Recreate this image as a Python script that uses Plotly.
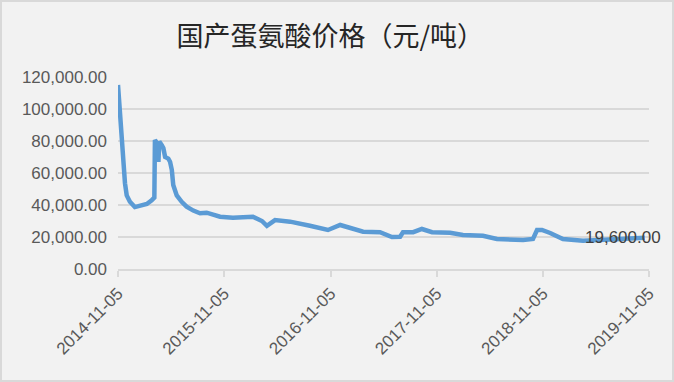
import plotly.graph_objects as go

dates = ["2014-11-05","2014-11-07","2014-11-12","2014-11-18","2014-11-23","2014-11-29","2014-12-05",
         "2014-12-16","2015-01-02","2015-01-20","2015-02-12","2015-03-01","2015-03-10","2015-03-12",
         "2015-03-18","2015-03-24","2015-03-27","2015-04-04","2015-04-10","2015-04-16","2015-04-27",
         "2015-05-03","2015-05-09","2015-05-14","2015-05-26","2015-06-12","2015-06-29","2015-07-22",
         "2015-08-14","2015-09-06","2015-10-22","2015-12-05","2016-02-12","2016-03-14","2016-03-31",
         "2016-04-28","2016-06-19","2016-08-26","2016-10-27","2016-12-08","2017-01-11","2017-02-07",
         "2017-02-25","2017-04-24","2017-06-04","2017-07-02","2017-07-12","2017-08-16","2017-09-15",
         "2017-10-20","2017-12-21","2018-02-03","2018-04-13","2018-05-31","2018-08-29","2018-10-02",
         "2018-10-16","2018-11-02","2018-11-30","2019-01-13","2019-03-23","2019-06-24","2019-10-22"]
prices = [115000,110000,93000,85000,70000,53600,46000,
          42000,38700,39400,40600,43000,44600,80600,
          79000,67000,79600,77500,75600,70000,69000,
          67000,62000,52500,46000,42000,39000,36500,
          34800,35200,32700,32000,32700,30000,27000,
          30600,29600,27000,24400,27500,25600,24400,
          23300,23000,20000,20200,23000,23000,25000,
          23000,22700,21250,20800,18750,18100,18750,
          24400,24400,22500,18750,17700,18500,19600]

tick_dates = ["2014-11-05","2015-11-05","2016-11-05","2017-11-05","2018-11-05","2019-11-05"]
title_text = "国产蛋氨酸价格（元/吨）"
last_label = "19,600.00"

L, R, T, B = 118, 25, 77, 113
W, H = 674, 382
pw, ph = W - L - R, H - T - B

fig = go.Figure()
fig.add_trace(go.Scatter(x=dates, y=prices, mode="lines",
                         line=dict(color="#5b9bd5", width=4.5), hoverinfo="skip"))

fig.add_annotation(x=dates[-1], y=prices[-1], text=last_label, showarrow=False,
                   xanchor="right", yanchor="middle", xshift=18,
                   font=dict(family="Liberation Sans, Arial", size=17, color="#404040"))

fig.update_layout(
    width=W, height=H,
    margin=dict(l=L, r=R, t=T, b=B),
    paper_bgcolor="#f2f2f2", plot_bgcolor="#f2f2f2",
    showlegend=False,
    title=dict(text=title_text, x=0.49, xanchor="center", y=0.905, yanchor="middle",
               font=dict(family="Noto Sans CJK SC", size=27, color="#262626")),
    xaxis=dict(type="date", range=["2014-11-05", "2019-11-05"],
               tickvals=tick_dates, ticktext=tick_dates, tickangle=-45,
               showgrid=False, showline=True, linecolor="#d9d9d9", linewidth=2,
               ticks="outside", ticklen=6, tickcolor="#d9d9d9", tickwidth=2,
               tickfont=dict(family="Liberation Sans, Arial", size=17, color="#595959")),
    yaxis=dict(range=[0, 120000], dtick=20000, tickformat=",.2f",
               showgrid=True, gridcolor="#d9d9d9", gridwidth=2, zeroline=False,
               ticks="", ticklen=0, ticklabelstandoff=10,
               tickfont=dict(family="Liberation Sans, Arial", size=17, color="#595959")),
    shapes=[dict(type="rect", xref="paper", yref="paper",
                 x0=-(L - 1) / pw, x1=1 + (R - 1) / pw,
                 y0=-(B - 1) / ph, y1=1 + (T - 1) / ph,
                 line=dict(color="#d9d9d9", width=2), layer="below")],
)

fig.write_html("out.html")
